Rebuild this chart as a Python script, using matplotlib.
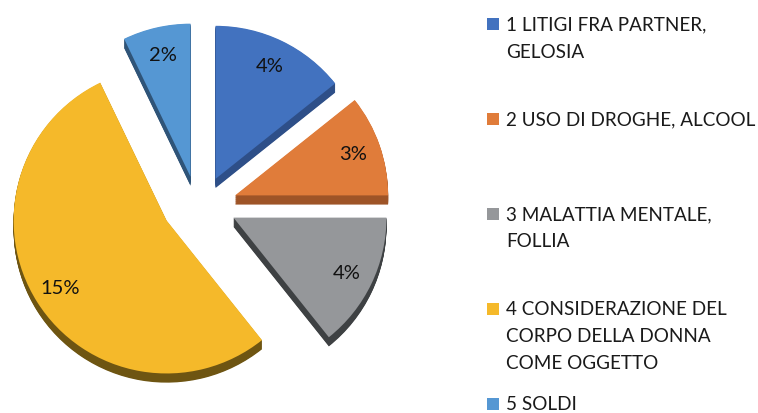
import numpy as np
import matplotlib.pyplot as plt
from matplotlib.patches import Wedge, Rectangle

plt.rcParams['font.family'] = ['Lato', 'DejaVu Sans']

# data
values = [4, 3, 4, 15, 2]
pct_labels = ['4%', '3%', '4%', '15%', '2%']
legend_labels = ['1 LITIGI FRA PARTNER,\nGELOSIA',
                 '2 USO DI DROGHE, ALCOOL',
                 '3 MALATTIA MENTALE,\nFOLLIA',
                 '4 CONSIDERAZIONE DEL\nCORPO DELLA DONNA\nCOME OGGETTO',
                 '5 SOLDI']
colors = ['#4272BF', '#E07C3A', '#95979A', '#F5B92A', '#5597D3']
side_colors = ['#2E4F88', '#9E5427', '#3E4143', '#6E5512', '#2F5478']

W, H = 758, 414
fig = plt.figure(figsize=(W / 100, H / 100), dpi=100)

# pie axes on the left part, 1 data unit = 153 px
R = 153
ax = fig.add_axes([0, 0, 400 / W, 1])
ax.set_xlim(-199 / R, 201 / R)
ax.set_ylim(-208 / R, 206 / R)
ax.axis('off')

frac = np.array(values) / sum(values)
edges = 90 - 360 * np.concatenate([[0], np.cumsum(frac)])
explode = 0.25
tilt = 0.76
depth = 0.06

centers = []
for i in range(len(values)):
    t1, t2 = edges[i + 1], edges[i]
    mid = np.deg2rad((t1 + t2) / 2)
    centers.append((explode * np.cos(mid), explode * tilt * np.sin(mid), mid))

# extruded sides first, so every top face sits above them
for i, (cx, cy, mid) in enumerate(centers):
    for off in np.linspace(depth, 0.004, 14):
        ax.add_patch(Wedge((cx, cy - off), 1, edges[i + 1], edges[i],
                           color=side_colors[i], lw=0))

for i, (cx, cy, mid) in enumerate(centers):
    ax.add_patch(Wedge((cx, cy), 1, edges[i + 1], edges[i],
                       color=colors[i], lw=0))
    ax.text(cx + 0.82 * np.cos(mid), cy + 0.82 * np.sin(mid), pct_labels[i],
            ha='center', va='center', fontsize=14.5, color='#111111')

# legend drawn by hand: one entry every 95 px, 27 px between lines
for i, lab in enumerate(legend_labels):
    y0 = 25 + 95 * i
    fig.add_artist(Rectangle((487 / W, 1 - (y0 + 6) / H), 12 / W, 12 / H,
                             transform=fig.transFigure, color=colors[i], lw=0))
    for j, line in enumerate(lab.split('\n')):
        fig.text(506 / W, 1 - (y0 + 27 * j) / H, line, ha='left',
                 va='center', fontsize=13.6, color='#1a1a1a')

fig.savefig('out.png', dpi=100)
